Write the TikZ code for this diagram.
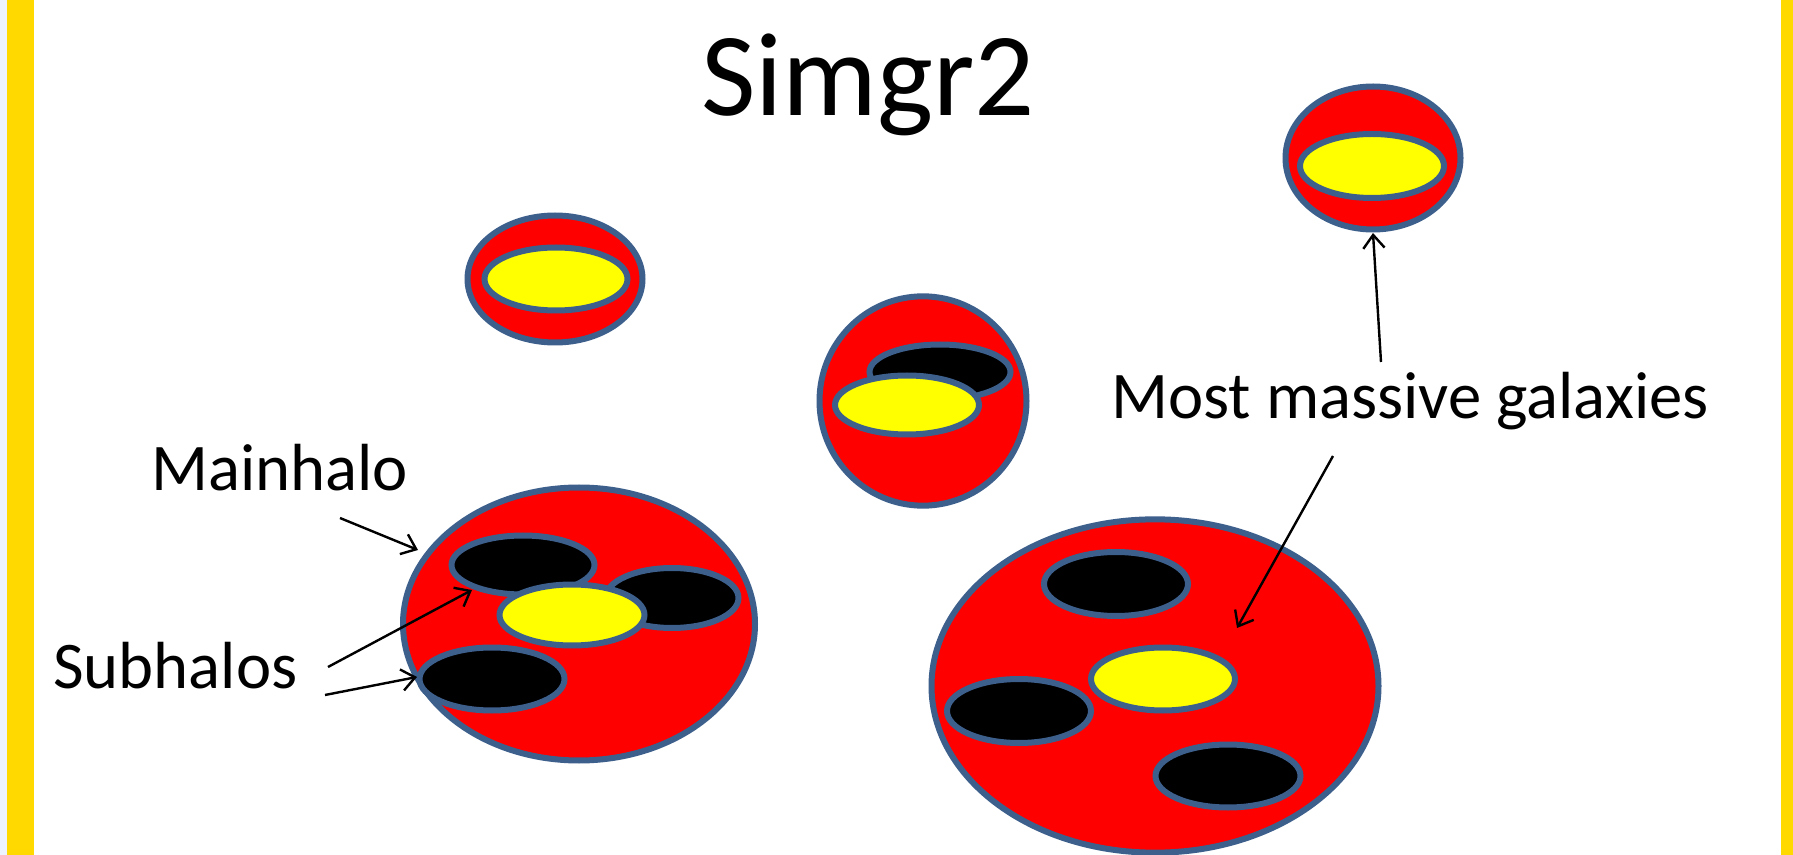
\documentclass[tikz,border=0pt]{standalone}
\usepackage{fontspec}
\setmainfont{Carlito}
\usetikzlibrary{shapes.geometric,arrows.meta}
\definecolor{edge}{RGB}{60,95,140}
\definecolor{hred}{RGB}{255,0,0}
\definecolor{gyel}{RGB}{255,255,0}
\definecolor{frame}{RGB}{255,217,0}
\definecolor{strip}{RGB}{238,244,255}
\begin{document}
\begin{tikzpicture}[x=0.75pt,y=-0.75pt,
  blob/.style={ellipse, draw=edge, line width=4.5pt, inner sep=0pt},
  halo/.style={blob, fill=hred},
  sub/.style={blob, fill=black},
  gal/.style={blob, fill=gyel},
  lbl/.style={inner sep=0pt, anchor=base west, font=\fontsize{50}{60}\selectfont},
  ptr/.style={-{Straight Barb[length=10pt,width=16pt]}, line width=1.8pt, black}]
\useasboundingbox (0,0) rectangle (1793,855);
\fill[white] (0,0) rectangle (1793,855);
\fill[strip] (0,0) rectangle (7,855);
\fill[frame] (7,0) rectangle (34,855);
\fill[frame] (1781,0) rectangle (1793,855);

% title
\node[inner sep=0pt, anchor=base, font=\fontsize{89}{100}\selectfont] (title) at (868,116) {Simgr2};

% top-left halo
\node[halo, minimum width=131.25pt, minimum height=95.25pt] (tl) at (555,279) {};
\node[gal, minimum width=107.25pt, minimum height=47.25pt] (tlg) at (556,279) {};

% top-right halo
\node[halo, minimum width=131.25pt, minimum height=107.25pt] (tr) at (1373,158) {};
\node[gal, minimum width=108pt, minimum height=48pt] (trg) at (1372,166) {};

% middle halo
\node[halo, minimum width=155.25pt, minimum height=157pt] (mid) at (923,401) {};
\node[sub, minimum width=105.75pt, minimum height=41.25pt] (mids) at (940,372) {};
\node[gal, minimum width=108pt, minimum height=44.25pt] (midg) at (907,405) {};

% bottom-left halo (main halo)
\node[halo, minimum width=264pt, minimum height=204.75pt] (bl) at (579,624) {};
\node[sub, minimum width=107.25pt, minimum height=44.25pt] (bls1) at (523,565) {};
\node[sub, minimum width=99.75pt, minimum height=45pt] (bls2) at (672,598) {};
\node[gal, minimum width=108.75pt, minimum height=45.75pt] (blg) at (572,615) {};
\node[sub, minimum width=108.75pt, minimum height=47.25pt] (bls3) at (492,679) {};

% bottom-right halo
\node[halo, minimum width=335.25pt, minimum height=250pt] (br) at (1155,686) {};
\node[sub, minimum width=108pt, minimum height=48pt] (brs1) at (1116,584) {};
\node[gal, minimum width=108pt, minimum height=47.25pt] (brg) at (1163,679) {};
\node[sub, minimum width=108pt, minimum height=48pt] (brs2) at (1019,711) {};
\node[sub, minimum width=108.75pt, minimum height=47.25pt] (brs3) at (1228,776) {};

% labels
\node[lbl] (mainlbl) at (151,491) {Mainhalo};
\node[lbl] (sublbl) at (53,688) {Subhalos};
\node[lbl] (mmglbl) at (1111,419) {Most massive galaxies};

% arrow end points
\coordinate (mA) at (340,518);
\coordinate (mB) at (418,550);
\coordinate (s1A) at (328,667);
\coordinate (s1B) at (472,590);
\coordinate (s2A) at (325,695);
\coordinate (s2B) at (417,677);
\coordinate (g1A) at (1381,362);
\coordinate (g1B) at (1373,233);
\coordinate (g2A) at (1333,456);
\coordinate (g2B) at (1237,628);

\draw[ptr] (mA) -- (mB);
\draw[ptr] (s1A) -- (s1B);
\draw[ptr] (s2A) -- (s2B);
\draw[ptr] (g1A) -- (g1B);
\draw[ptr] (g2A) -- (g2B);
\end{tikzpicture}
\end{document}
